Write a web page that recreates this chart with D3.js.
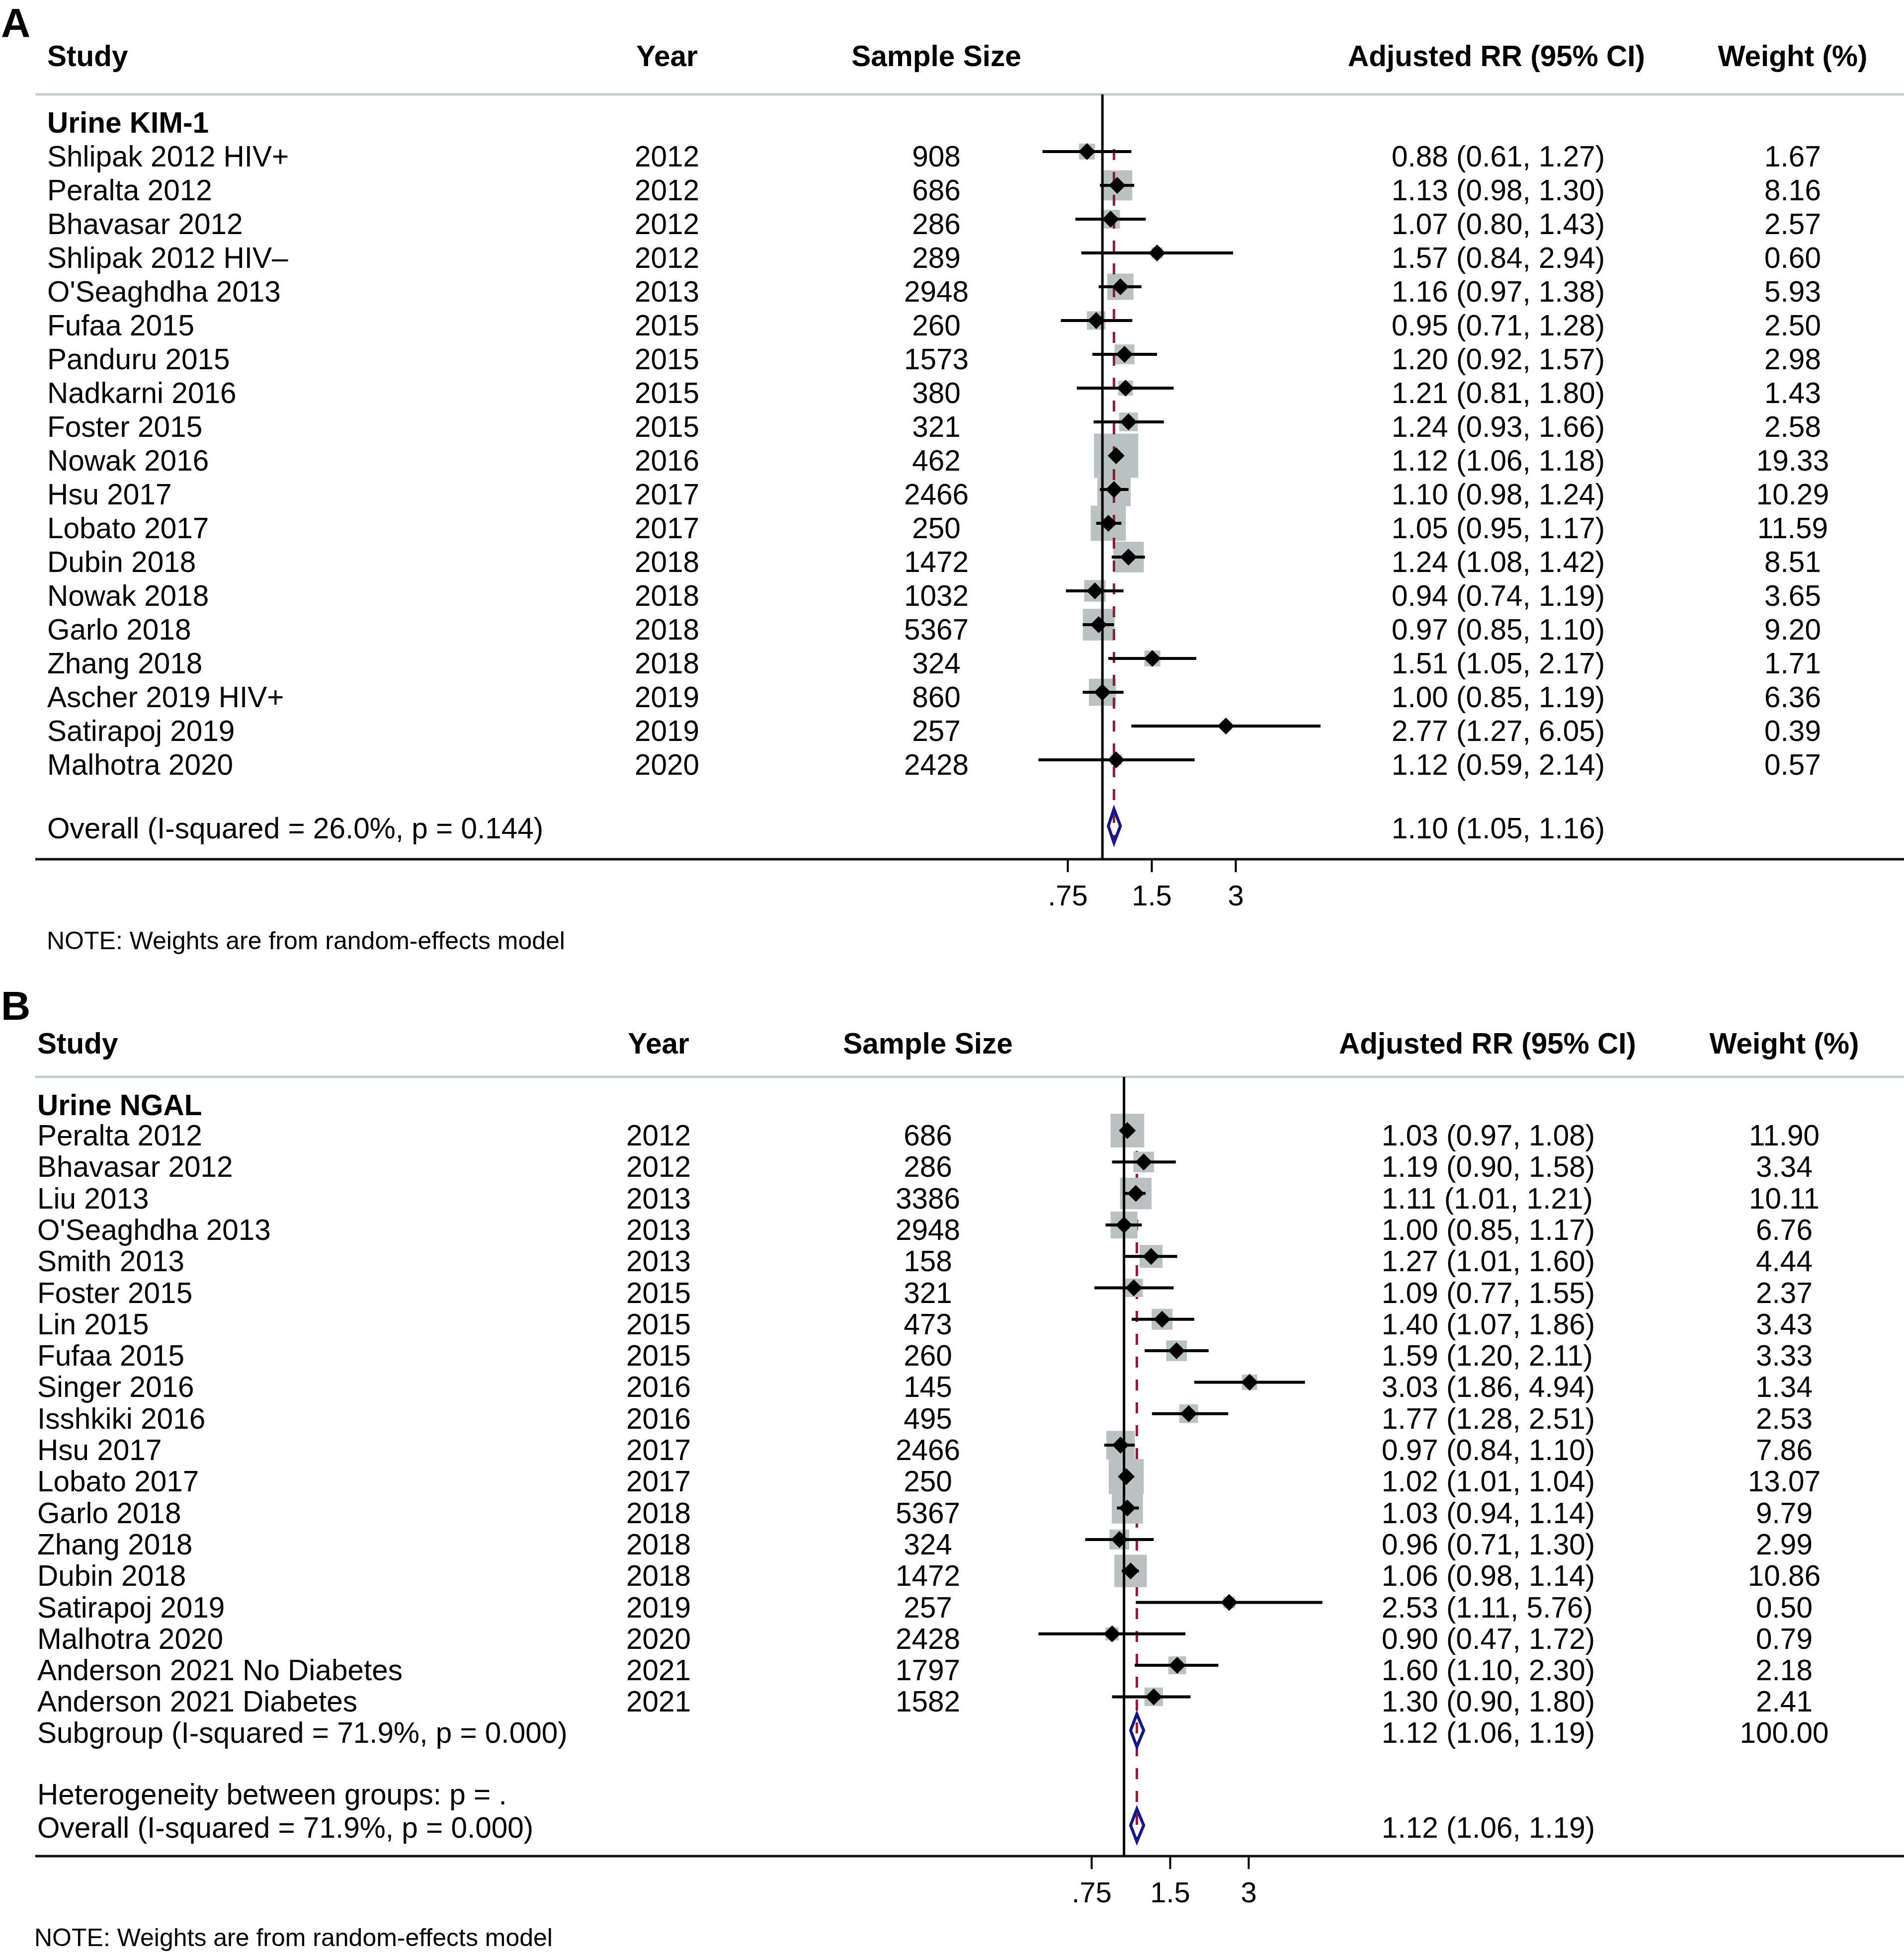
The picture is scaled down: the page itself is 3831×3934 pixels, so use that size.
<!DOCTYPE html>
<html>
<head>
<meta charset="utf-8">
<script src="https://cdn.jsdelivr.net/npm/d3@7"></script>
<style>
  html, body { margin: 0; padding: 0; background: #ffffff; }
  svg { display: block; }
  text { font-family: "Liberation Sans", Arial, Helvetica, sans-serif; fill: #000; }
</style>
</head>
<body>
<svg id="chart"></svg>
<script>
// ---------------- DATA: Panel A (Urine KIM-1) ----------------
const studiesA = ["Shlipak 2012 HIV+", "Peralta 2012", "Bhavasar 2012", "Shlipak 2012 HIV\u2013", "O'Seaghdha 2013",
  "Fufaa 2015", "Panduru 2015", "Nadkarni 2016", "Foster 2015", "Nowak 2016", "Hsu 2017", "Lobato 2017",
  "Dubin 2018", "Nowak 2018", "Garlo 2018", "Zhang 2018", "Ascher 2019 HIV+", "Satirapoj 2019", "Malhotra 2020"];
const yearsA = [2012, 2012, 2012, 2012, 2013, 2015, 2015, 2015, 2015, 2016, 2017, 2017, 2018, 2018, 2018, 2018, 2019, 2019, 2020];
const sizesA = [908, 686, 286, 289, 2948, 260, 1573, 380, 321, 462, 2466, 250, 1472, 1032, 5367, 324, 860, 257, 2428];
const rrA   = [0.88, 1.13, 1.07, 1.57, 1.16, 0.95, 1.20, 1.21, 1.24, 1.12, 1.10, 1.05, 1.24, 0.94, 0.97, 1.51, 1.00, 2.77, 1.12];
const lowA  = [0.61, 0.98, 0.80, 0.84, 0.97, 0.71, 0.92, 0.81, 0.93, 1.06, 0.98, 0.95, 1.08, 0.74, 0.85, 1.05, 0.85, 1.27, 0.59];
const highA = [1.27, 1.30, 1.43, 2.94, 1.38, 1.28, 1.57, 1.80, 1.66, 1.18, 1.24, 1.17, 1.42, 1.19, 1.10, 2.17, 1.19, 6.05, 2.14];
const weightsA = [1.67, 8.16, 2.57, 0.60, 5.93, 2.50, 2.98, 1.43, 2.58, 19.33, 10.29, 11.59, 8.51, 3.65, 9.20, 1.71, 6.36, 0.39, 0.57];
const summaryLabelsA = ["Overall (I-squared = 26.0%, p = 0.144)"];
const summaryRrA = [1.10], summaryLowA = [1.05], summaryHighA = [1.16], summaryWeightA = [null];

// ---------------- DATA: Panel B (Urine NGAL) ----------------
const studiesB = ["Peralta 2012", "Bhavasar 2012", "Liu 2013", "O'Seaghdha 2013", "Smith 2013", "Foster 2015", "Lin 2015",
  "Fufaa 2015", "Singer 2016", "Isshkiki 2016", "Hsu 2017", "Lobato 2017", "Garlo 2018", "Zhang 2018", "Dubin 2018",
  "Satirapoj 2019", "Malhotra 2020", "Anderson 2021 No Diabetes", "Anderson 2021 Diabetes"];
const yearsB = [2012, 2012, 2013, 2013, 2013, 2015, 2015, 2015, 2016, 2016, 2017, 2017, 2018, 2018, 2018, 2019, 2020, 2021, 2021];
const sizesB = [686, 286, 3386, 2948, 158, 321, 473, 260, 145, 495, 2466, 250, 5367, 324, 1472, 257, 2428, 1797, 1582];
const rrB   = [1.03, 1.19, 1.11, 1.00, 1.27, 1.09, 1.40, 1.59, 3.03, 1.77, 0.97, 1.02, 1.03, 0.96, 1.06, 2.53, 0.90, 1.60, 1.30];
const lowB  = [0.97, 0.90, 1.01, 0.85, 1.01, 0.77, 1.07, 1.20, 1.86, 1.28, 0.84, 1.01, 0.94, 0.71, 0.98, 1.11, 0.47, 1.10, 0.90];
const highB = [1.08, 1.58, 1.21, 1.17, 1.60, 1.55, 1.86, 2.11, 4.94, 2.51, 1.10, 1.04, 1.14, 1.30, 1.14, 5.76, 1.72, 2.30, 1.80];
const weightsB = [11.90, 3.34, 10.11, 6.76, 4.44, 2.37, 3.43, 3.33, 1.34, 2.53, 7.86, 13.07, 9.79, 2.99, 10.86, 0.50, 0.79, 2.18, 2.41];
const summaryLabelsB = ["Subgroup (I-squared = 71.9%, p = 0.000)", "Overall (I-squared = 71.9%, p = 0.000)"];
const summaryRrB = [1.12, 1.12], summaryLowB = [1.06, 1.06], summaryHighB = [1.19, 1.19], summaryWeightB = [100.00, null];
const heterogeneityB = "Heterogeneity between groups: p = .";

// ---------------- SHARED LABELS ----------------
const headers = ["Study", "Year", "Sample Size", "Adjusted RR (95% CI)", "Weight (%)"];
const tickValues = [0.75, 1.5, 3];
const tickLabels = [".75", "1.5", "3"];
const noteText = "NOTE: Weights are from random-effects model";

// ---------------- DRAWING ----------------
const W = 3831, H = 3934;
const svg = d3.select("#chart").attr("width", W).attr("height", H);
svg.append("rect").attr("width", W).attr("height", H).attr("fill", "#fff");

const f2 = d3.format(".2f");
const FS = 58.5;
const BOXC = "#b9c2c0", RULEC = "#c6cecb", DASHC = "#8e1c35", SUMC = "#16168c";

function drawPanel(p) {
  const g = svg.append("g");
  const x = d3.scaleLog().domain([0.75, 3]).range(p.xRange);
  const rowY = i => p.row0 + p.rowStep * i;
  const box = d3.scaleSqrt().domain([0, d3.max(p.weights)]).range(p.boxRange);

  // panel letter
  g.append("text").attr("x", 2).attr("y", p.labelY).attr("font-size", 82).attr("font-weight", "bold").text(p.label);

  // headers
  const hx = [p.studyX, p.yearX, p.sizeX, p.ciHeadX, p.wX];
  const ha = ["start", "middle", "middle", "middle", "middle"];
  headers.forEach((h, i) => {
    g.append("text").attr("x", hx[i]).attr("y", p.headerY).attr("text-anchor", ha[i])
      .attr("font-size", FS).attr("font-weight", "bold").text(h);
  });

  // header rule
  g.append("line").attr("x1", 71).attr("x2", W).attr("y1", p.ruleY).attr("y2", p.ruleY)
    .attr("stroke", RULEC).attr("stroke-width", 5);

  // group label
  g.append("text").attr("x", p.studyX).attr("y", p.groupY).attr("font-size", FS).attr("font-weight", "bold").text(p.group);

  // axis
  const axis = d3.axisBottom(x).tickValues(tickValues).tickFormat((d, i) => tickLabels[i]).tickSize(26).tickSizeOuter(0);
  const ag = g.append("g").attr("transform", `translate(0,${p.axisY})`).call(axis);
  ag.select(".domain").remove();
  ag.selectAll(".tick line").attr("stroke", "#000").attr("stroke-width", 4);
  ag.selectAll(".tick text").attr("font-size", 58).attr("font-family", '"Liberation Sans", Arial, sans-serif')
    .attr("fill", "#000").attr("dy", null).attr("y", p.tickLabY - p.axisY);
  g.append("line").attr("x1", 71).attr("x2", W).attr("y1", p.axisY).attr("y2", p.axisY)
    .attr("stroke", "#111").attr("stroke-width", 5);

  const mk = 30; // marker offset above text baseline
  const sumY = p.summaryY;
  const dashTop = rowY(0) - mk - (p.dashStartGap);
  const dashBottom = sumY[sumY.length - 1] - 25 + p.sumHalfH;

  const drawDash = () => g.append("line").attr("x1", x(p.summaryRr[0])).attr("x2", x(p.summaryRr[0]))
    .attr("y1", dashTop).attr("y2", dashBottom).attr("stroke", DASHC).attr("stroke-width", 5)
    .attr("stroke-dasharray", "22,24");
  const drawNull = () => g.append("line").attr("x1", x(1)).attr("x2", x(1)).attr("y1", p.ruleY).attr("y2", p.axisY)
    .attr("stroke", "#000").attr("stroke-width", 5);

  if (p.dashUnder) drawDash();

  // weight boxes
  g.selectAll(".box").data(p.weights).enter().append("rect")
    .attr("x", (w, i) => x(p.rr[i]) - box(w) / 2).attr("y", (w, i) => rowY(i) - mk - box(w) / 2)
    .attr("width", w => box(w)).attr("height", w => box(w)).attr("fill", BOXC);

  drawNull();
  if (!p.dashUnder) drawDash();

  // CI lines
  g.selectAll(".ci").data(p.rr).enter().append("line")
    .attr("x1", (d, i) => x(p.low[i])).attr("x2", (d, i) => x(p.high[i]))
    .attr("y1", (d, i) => rowY(i) - mk).attr("y2", (d, i) => rowY(i) - mk)
    .attr("stroke", "#000").attr("stroke-width", 6);

  // point diamonds
  const s = 17;
  g.selectAll(".pt").data(p.rr).enter().append("path")
    .attr("d", (d, i) => {
      const cx = x(d), cy = rowY(i) - mk;
      return `M${cx},${cy - s}L${cx + s},${cy}L${cx},${cy + s}L${cx - s},${cy}Z`;
    }).attr("fill", "#000");

  // study text rows
  p.studies.forEach((st, i) => {
    const y = rowY(i);
    g.append("text").attr("x", p.studyX).attr("y", y).attr("font-size", FS).text(st);
    g.append("text").attr("x", p.yearX).attr("y", y).attr("text-anchor", "middle").attr("font-size", FS).text(p.years[i]);
    g.append("text").attr("x", p.sizeX).attr("y", y).attr("text-anchor", "middle").attr("font-size", FS).text(p.sizes[i]);
    g.append("text").attr("x", p.ciX).attr("y", y).attr("font-size", FS)
      .text(`${f2(p.rr[i])} (${f2(p.low[i])}, ${f2(p.high[i])})`);
    g.append("text").attr("x", p.wX).attr("y", y).attr("text-anchor", "middle").attr("font-size", FS).text(f2(p.weights[i]));
  });

  // summary rows
  p.summaryLabels.forEach((lab, i) => {
    const y = sumY[i];
    g.append("text").attr("x", p.studyX).attr("y", y).attr("font-size", FS).text(lab);
    g.append("text").attr("x", p.ciX).attr("y", y).attr("font-size", FS)
      .text(`${f2(p.summaryRr[i])} (${f2(p.summaryLow[i])}, ${f2(p.summaryHigh[i])})`);
    if (p.summaryWeight[i] != null)
      g.append("text").attr("x", p.wX).attr("y", y).attr("text-anchor", "middle").attr("font-size", FS).text(f2(p.summaryWeight[i]));
    const cy = y - 25, cx = x(p.summaryRr[i]), l = x(p.summaryLow[i]), r = x(p.summaryHigh[i]), hh = p.sumHalfH;
    g.append("path").attr("d", `M${l},${cy}L${cx},${cy - hh}L${r},${cy}L${cx},${cy + hh}Z`)
      .attr("fill", "none").attr("stroke", SUMC).attr("stroke-width", 6);
  });

  if (p.extraText) {
    g.append("text").attr("x", p.studyX).attr("y", p.extraY).attr("font-size", FS).text(p.extraText);
  }

  // note
  g.append("text").attr("x", p.noteX).attr("y", p.noteY).attr("font-size", 50).text(noteText);
}

drawPanel({
  label: "A", labelY: 74, headerY: 133, ruleY: 190, group: "Urine KIM-1", groupY: 267,
  row0: 335, rowStep: 68.0, studyX: 95, yearX: 1342, sizeX: 1884, ciX: 2800, ciHeadX: 3011, wX: 3607,
  xRange: [2148, 2486], axisY: 1729, tickLabY: 1822, noteX: 94, noteY: 1910,
  boxRange: [8, 89], sumHalfH: 34, dashStartGap: 5, dashUnder: false,
  studies: studiesA, years: yearsA, sizes: sizesA, rr: rrA, low: lowA, high: highA, weights: weightsA,
  summaryLabels: summaryLabelsA, summaryRr: summaryRrA, summaryLow: summaryLowA, summaryHigh: summaryHighA,
  summaryWeight: summaryWeightA, summaryY: [1687]
});

drawPanel({
  label: "B", labelY: 2052, headerY: 2120, ruleY: 2167, group: "Urine NGAL", groupY: 2244,
  row0: 2305, rowStep: 63.3, studyX: 75, yearX: 1325, sizeX: 1867, ciX: 2780, ciHeadX: 2993, wX: 3590,
  xRange: [2196, 2512], axisY: 3735, tickLabY: 3828, noteX: 69, noteY: 3916,
  boxRange: [12, 70.5], sumHalfH: 33, dashStartGap: 5, dashUnder: true,
  studies: studiesB, years: yearsB, sizes: sizesB, rr: rrB, low: lowB, high: highB, weights: weightsB,
  summaryLabels: summaryLabelsB, summaryRr: summaryRrB, summaryLow: summaryLowB, summaryHigh: summaryHighB,
  summaryWeight: summaryWeightB, summaryY: [3507, 3698],
  extraText: heterogeneityB, extraY: 3631
});
</script>
</body>
</html>
